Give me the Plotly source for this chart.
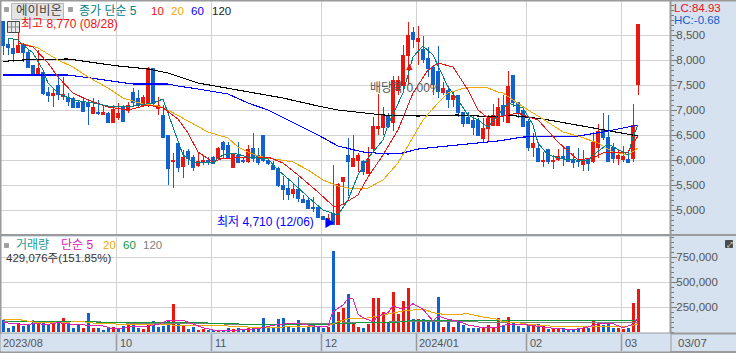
import plotly.graph_objects as go

opens = [8770,8320,8240,8160,8320,8160,7900,7740,7760,7360,
         7300,7500,7280,7260,7240,7160,7160,7160,6940,6960,
         6920,6940,6760,6860,7080,7000,7360,7240,7100,7100,
         7840,7040,6900,6500,5980,6340,5880,6180,6060,5900,
         5980,6000,6060,6040,6360,6300,5860,6100,6000,5980,
         6240,6100,6500,6000,5900,5840,5500,5440,5340,5420,
         5220,5200,5060,5060,4880,4820,4940,4720,5580,6100,
         5880,6000,5980,5740,6240,6640,6660,6900,6760,7400,
         7500,8100,8560,8380,8220,8040,7860,7780,7360,7400,
         7220,7300,6960,6860,6800,6800,6440,6640,6700,6700,
         7100,6760,7700,7160,7000,6780,6260,6240,5980,6220,
         5980,6020,6080,6280,6020,6000,5920,6040,5980,6260,
         6600,6460,6260,6040,6020,6020,6040,7520]
closes = [8300,8260,8140,8300,8160,7860,7720,7840,7340,7300,
          7340,7320,7320,7180,7060,7060,6980,7080,7060,6940,
          6960,6760,7020,6940,6780,7100,7160,7100,7260,7840,
          7140,7100,6460,5840,6000,5860,6060,6040,5860,5980,
          6000,5980,5940,6240,6220,6060,6120,5960,5980,6220,
          6040,5960,6000,5940,5820,5500,5420,5320,5420,5240,
          5160,5040,5040,4860,4820,4840,4720,5520,5660,5980,
          6040,6100,5780,6020,6680,6680,6900,6680,7600,7600,
          8100,8500,8420,8440,8020,7840,7520,7380,7440,7220,
          7300,6960,6740,6740,6660,6500,6640,6840,6900,7060,
          6900,7480,7160,6960,6680,6260,6340,5980,6000,5980,
          6000,6080,6040,5980,5960,5980,5980,5940,6360,6580,
          6460,5980,6040,6100,6080,5960,6700,8720]
highs = [8770,8440,8400,8540,8340,8200,7900,8200,7800,7460,
         7440,7680,7660,7340,7260,7200,7240,7220,7240,7200,
         7100,6960,7100,7140,7100,7160,7440,7400,7300,7860,
         7840,7260,7100,6500,6140,6340,6200,6220,6100,6140,
         6100,6060,6080,6260,6380,6360,6140,6360,6060,6300,
         6540,6240,6500,6060,5980,5860,5680,5640,5540,5660,
         5300,5260,5260,5080,4880,4920,5900,5540,5660,6440,
         6500,6140,6000,6260,6860,7320,7060,6940,7680,7680,
         8300,8760,8660,8680,8480,8260,7900,8280,7560,7480,
         7360,7300,6960,6960,6900,6840,6840,6900,7120,7240,
         7300,7780,7700,7160,7040,6820,6540,6360,6160,6220,
         6100,6220,6260,6280,6140,6240,6200,6040,6560,6720,
         6940,6900,6340,6200,6280,6160,7120,8720]
lows = [8100,8100,7960,8140,7960,7840,7720,7700,7300,7160,
        7060,7200,7200,7080,7040,7060,6980,6700,6940,6900,
        6900,6760,6760,6800,6760,6940,7060,7060,7060,7060,
        7060,6900,6440,5500,5440,5760,5640,5900,5780,5860,
        5900,5900,5920,6000,6020,6020,5860,5960,5940,5940,
        5960,5900,5960,5900,5820,5460,5200,5200,5240,5160,
        5140,5040,4960,4860,4800,4800,4710,4710,5100,5280,
        5860,5760,5700,5720,6160,6500,6500,6640,6580,7300,
        7400,7500,8240,7900,7940,7660,7300,7240,7300,7040,
        7060,6860,6660,6720,6500,6500,6360,6360,6700,6680,
        6760,6760,7060,6840,6680,6180,6060,5980,5860,5920,
        5820,5980,5880,5960,5840,5860,5780,5780,5940,6040,
        6400,5960,5940,5900,5960,5960,5960,7300]
volumes = [116000,37000,60000,93000,60000,77000,103000,83000,103000,67000,
           83000,103000,137000,83000,37000,83000,37000,187000,37000,37000,
           20000,43000,50000,27000,60000,93000,70000,37000,27000,93000,
           110000,53000,60000,117000,277000,93000,70000,27000,50000,17000,
           33000,20000,17000,10000,10000,37000,33000,37000,20000,37000,
           43000,43000,137000,43000,40000,127000,137000,60000,43000,117000,
           37000,50000,83000,50000,37000,50000,810000,200000,237000,377000,
           83000,50000,37000,83000,337000,337000,200000,93000,400000,177000,
           310000,437000,127000,127000,127000,103000,103000,350000,50000,103000,
           50000,117000,70000,37000,37000,37000,43000,70000,43000,137000,
           60000,153000,90000,57000,43000,83000,60000,77000,60000,27000,
           43000,27000,43000,20000,20000,43000,43000,43000,117000,83000,
           70000,83000,37000,37000,27000,43000,287000,429076]
# 1 = red (rising volume bar), 0 = blue
volume_up = [0,0,0,1,0,0,0,1,0,0,
             1,0,1,0,0,0,1,0,1,0,
             0,0,1,0,0,1,0,0,1,1,
             0,0,0,0,1,0,1,0,0,1,
             1,0,0,1,0,0,1,0,0,1,
             0,0,0,0,0,0,0,0,0,0,
             0,0,0,0,0,1,0,1,1,0,
             1,1,0,1,1,1,1,0,1,1,
             1,1,0,1,0,0,0,0,1,0,
             1,0,0,0,0,0,1,1,1,1,
             0,1,0,0,0,0,1,0,1,0,
             1,1,0,0,0,0,1,0,1,1,
             0,0,0,1,1,0,1,1]

ma5_i = [1,3,4,6,8,9,11,14,18,22,26,30,32,33,35,36,38,42,44,46,49,53,55,58,61,64,67,69,71,73,76,77,80,82,84,86,89,91,93,95,97,99,101,104,105,106,107,109,112,117,118,121,124,125,126,127]
ma5_v = [8440,8400,8300,8140,7800,7540,7340,7200,7140,7060,7080,7140,7220,6940,6340,6100,5960,5960,6100,6140,6060,6020,5800,5540,5260,5000,4900,5200,5700,6040,6400,6700,7340,8060,8280,8100,7460,7200,6900,6800,6660,6900,7140,7040,6860,6700,6340,6100,6020,5980,6100,6320,6160,6100,6460,6700]
ma10_i = [3,6,9,11,14,17,21,25,29,32,35,37,39,42,44,46,49,53,56,59,63,66,67,71,73,76,79,80,82,85,87,90,93,95,97,99,103,104,107,111,115,118,120,125,127]
ma10_v = [8340,8260,7940,7660,7340,7200,7060,7000,7100,7040,6820,6540,6160,5960,6040,6040,6060,6060,5940,5700,5360,5080,5060,5300,5660,6100,6600,6840,7340,7800,7940,7860,7400,7000,6840,6860,6940,6900,6800,6360,6000,6040,6140,6160,6480]
ma20_i = [3,5,7,11,14,17,21,24,28,31,33,36,41,45,47,49,51,53,58,61,64,67,70,73,76,79,82,84,87,89,93,97,99,100,102,105,108,112,115,119,122,125,127]
ma20_v = [8340,8300,8240,8000,7860,7660,7440,7240,7120,7080,7000,6840,6560,6440,6260,6160,6080,6040,5960,5800,5600,5480,5420,5440,5600,5940,6460,6800,7140,7340,7460,7440,7360,7340,7200,7000,6820,6560,6480,6340,6160,6100,6240]
ma60_i = [0,1,13,16,23,26,33,35,39,45,49,53,57,63,67,72,77,80,83,89,95,99,104,115,120,125,127]
ma60_v = [7700,7700,7700,7660,7560,7520,7520,7480,7420,7320,7140,7000,6800,6500,6280,6160,6120,6140,6220,6280,6340,6380,6460,6480,6560,6660,6700]
ma120_i = [0,1,4,6,13,23,29,33,39,49,56,63,67,76,83,91,99,101,108,117,124,127]
ma120_v = [7960,7980,8000,8010,8020,7880,7820,7740,7540,7360,7240,7080,7000,6900,6880,6900,6860,6900,6820,6660,6540,6480]

vma5_i = [0,3,4,6,9,11,14,18,20,22,24,26,29,31,33,36,38,40,42,45,49,51,55,59,63,65,66,68,69,70,71,72,74,75,77,78,80,82,84,86,87,89,91,93,96,99,101,104,109,112,114,117,119,122,124,126,127]
vma5_v = [93000,83000,70000,83000,77000,93000,77000,70000,60000,33000,37000,60000,60000,77000,117000,117000,77000,43000,20000,10000,27000,33000,77000,87000,53000,60000,203000,270000,333000,333000,177000,143000,103000,160000,193000,260000,227000,283000,227000,110000,160000,127000,110000,70000,43000,50000,77000,77000,43000,33000,20000,50000,83000,83000,43000,77000,137000]
vma20_i = [0,3,4,6,8,13,16,19,26,33,36,39,45,49,56,65,67,69,72,74,77,80,84,86,89,93,96,99,100,103,105,109,112,117,122,125,127]
vma20_v = [127000,127000,117000,100000,93000,103000,103000,83000,77000,70000,70000,60000,60000,50000,50000,60000,103000,130000,133000,150000,177000,210000,230000,193000,170000,183000,150000,127000,103000,93000,77000,60000,50000,57000,53000,60000,77000]
vma60_i = [1,18,20,27,31,41,49,65,67,79,81,93,99,101,125,127]
vma60_v = [103000,103000,93000,93000,87000,90000,77000,77000,87000,97000,110000,117000,110000,120000,120000,117000]
vma120_i = [0,6,18,26,39,49,65,69,81,93,99,109,127]
vma120_v = [103000,110000,103000,87000,83000,77000,83000,93000,103000,100000,103000,93000,93000]

month_pos = [22.7,41.7,63.7,82.7,104.7,123.7]
month_labels = ["10","11","12","2024/01","02","03"]
first_label = "2023/08"
last_label = "03/07"
price_ticks = [5000,5500,6000,6500,7000,7500,8000,8500]
volume_ticks = [250000,500000,750000]

assert all(len(a)==128 for a in (opens,closes,highs,lows,volumes,volume_up))

W, H = 736, 353
RED, BLUE = "#e8170f", "#1360cf"
TEAL, ORANGE, LBLUE = "#008080", "#f0a800", "#0000ff"
GRID, EDGE, PANEL = "#d2d2d2", "#9a9a9a", "#d6e2f0"
FONT = "Liberation Sans, Noto Sans CJK KR"
idx = list(range(len(opens)))

fig = go.Figure()
fig.add_trace(go.Candlestick(x=idx, open=opens, high=highs, low=lows, close=closes,
    whiskerwidth=0,
    increasing=dict(line=dict(color=RED, width=1), fillcolor=RED),
    decreasing=dict(line=dict(color=BLUE, width=1), fillcolor=BLUE),
    xaxis="x", yaxis="y"))
for xs, ys, col, w in [(ma120_i, ma120_v, "#000000", 1.1), (ma60_i, ma60_v, LBLUE, 1.1),
                       (ma20_i, ma20_v, ORANGE, 1), (ma10_i, ma10_v, "#f01010", 1),
                       (ma5_i, ma5_v, TEAL, 1)]:
    fig.add_trace(go.Scatter(x=xs, y=ys, mode="lines", line=dict(color=col, width=w), xaxis="x", yaxis="y"))

fig.add_trace(go.Bar(x=idx, y=volumes, width=0.6,
    marker=dict(color=[RED if u else BLUE for u in volume_up], line_width=0), xaxis="x2", yaxis="y2"))
for xs, ys, col, w in [(vma120_i, vma120_v, "#808080", 1), (vma60_i, vma60_v, "#0d9a3c", 1),
                       (vma20_i, vma20_v, ORANGE, 1), (vma5_i, vma5_v, "#e020b0", 1)]:
    fig.add_trace(go.Scatter(x=xs, y=ys, mode="lines", line=dict(color=col, width=w), xaxis="x2", yaxis="y2"))

def px_x(p): return p / W
def px_y(p): return 1 - p / H

xcommon = dict(range=[-0.6, 133.4], domain=[0, 670 / W], tickvals=month_pos, ticktext=[""] * 6,
               showgrid=True, gridcolor=GRID, gridwidth=1, zeroline=False, showline=False,
               ticks="", showticklabels=False, rangeslider=dict(visible=False))
ycommon = dict(side="right", showgrid=True, gridcolor=GRID, gridwidth=1, zeroline=False,
               showline=False, ticks="outside", ticklen=6, tickwidth=1, tickcolor="#777777",
               tickfont=dict(family="Liberation Sans", size=11.5, color="#555555"), ticklabelstandoff=-3)

shapes = []
def line(x0, y0, x1, y1, col=EDGE, w=2):
    shapes.append(dict(type="line", xref="paper", yref="paper", x0=px_x(x0), x1=px_x(x1),
                       y0=px_y(y0), y1=px_y(y1), line=dict(color=col, width=w), layer="above"))
def rect(x0, y0, x1, y1, fill, col=None):
    shapes.append(dict(type="rect", xref="paper", yref="paper", x0=px_x(x0), x1=px_x(x1),
                       y0=px_y(y0), y1=px_y(y1), fillcolor=fill,
                       line=dict(color=col or fill, width=1), layer="above"))

line(0, 0.5, W, 0.5); line(0.5, 0, 0.5, H); line(0, 352, W, 352)
line(0, 235, W, 235); line(0, 333.5, W, 333.5); line(670.5, 0, 670.5, H)
rect(1, 334, 670, 351, PANEL)
for p in month_pos:
    px = 3 + 5 * p
    line(px, 334, px, 351, EDGE, 1.5)
# header widgets
rect(11.5, 3.5, 63.5, 19.5, "#e4e4e4", "#b5b5b5")
rect(4.5, 7.5, 8.5, 11.5, "#a0a0a0"); rect(68.5, 7.5, 72.5, 11.5, "#a0a0a0")
rect(7.5, 21.5, 19.5, 32.5, "#e8e8e8", "#444444")
line(11.5, 22, 11.5, 32, "#888888", 1); line(15.5, 22, 15.5, 32, "#888888", 1); line(8, 27, 19, 27, "#888888", 1)
rect(4.5, 243.5, 8.5, 247.5, "#a0a0a0")
rect(725.5, 240.5, 732.5, 247.5, "#4a4a4a")

ann = []
def text(x, y, s, col, size=12):
    ann.append(dict(xref="paper", yref="paper", x=px_x(x - 1), y=px_y(y), text=s, showarrow=False,
                    xanchor="left", yanchor="middle", font=dict(family=FONT, size=size, color=col)))
text(15, 11, "에이비온", "#444444", 12.5)
text(78, 11, "종가 단순 5", TEAL); text(150, 11, "10", "#f01010", 11.5); text(170, 11, "20", ORANGE, 11.5)
text(190, 11, "60", LBLUE, 11.5); text(211, 11, "120", "#222222", 11.5)
text(20, 24, "최고 8,770 (08/28)", "#f01010")
text(216, 222, "최저 4,710 (12/06)", LBLUE)
text(323, 223, "▶", LBLUE, 11)
text(369, 88, "배당락 0.00%", "#555555", 12)
text(403, 66, "▲", RED, 11)
text(673, 8, "LC:84.93", "#f01010", 11.5); text(673, 20, "HC:-0.68", BLUE, 11.5)
text(15, 245, "거래량", "#1f9a9a"); text(60, 245, "단순 5", "#e020b0"); text(102, 245, "20", ORANGE, 11.5)
text(122, 245, "60", "#0d9a3c", 11.5); text(142, 245, "120", "#808080", 11.5)
text(5, 258, "429,076주(151.85%)", "#333333", 11.5)
text(2, 343, first_label, "#555555", 11)
for p, s in zip(month_pos, month_labels):
    text(3 + 5 * p + 2, 343, s, "#555555", 11)
text(677, 343, last_label, "#555555", 11.5)
text(726, 244, "⤢", "#ffffff", 7)

fig.update_layout(
    width=W, height=H, margin=dict(l=0, r=0, t=0, b=0), showlegend=False,
    paper_bgcolor=PANEL, plot_bgcolor="#ffffff", bargap=0, boxgap=0.3,
    xaxis=dict(**xcommon, anchor="y"),
    xaxis2=dict(**xcommon, anchor="y2", matches="x"),
    yaxis=dict(**ycommon, domain=[px_y(234), px_y(1)], range=[4520, 9180], tickvals=price_ticks,
               tickformat=",d", anchor="x", minor=dict(dtick=100, ticks="outside", ticklen=3, tickcolor="#777777", showgrid=False)),
    yaxis2=dict(**ycommon, domain=[px_y(333), px_y(237)], range=[-10000, 950000], tickvals=volume_ticks,
                tickformat=",d", anchor="x2", minor=dict(dtick=50000, ticks="outside", ticklen=3, tickcolor="#777777", showgrid=False)),
    shapes=shapes, annotations=ann,
)
fig.write_html("out.html", config={"displayModeBar": False},
               post_script="document.body.style.margin='0';document.body.style.overflow='hidden';"
                           "var s=document.createElement('style');"
                           "s.textContent='.scatterlayer path,.boxlayer path{shape-rendering:crispEdges}';"
                           "document.head.appendChild(s);")
